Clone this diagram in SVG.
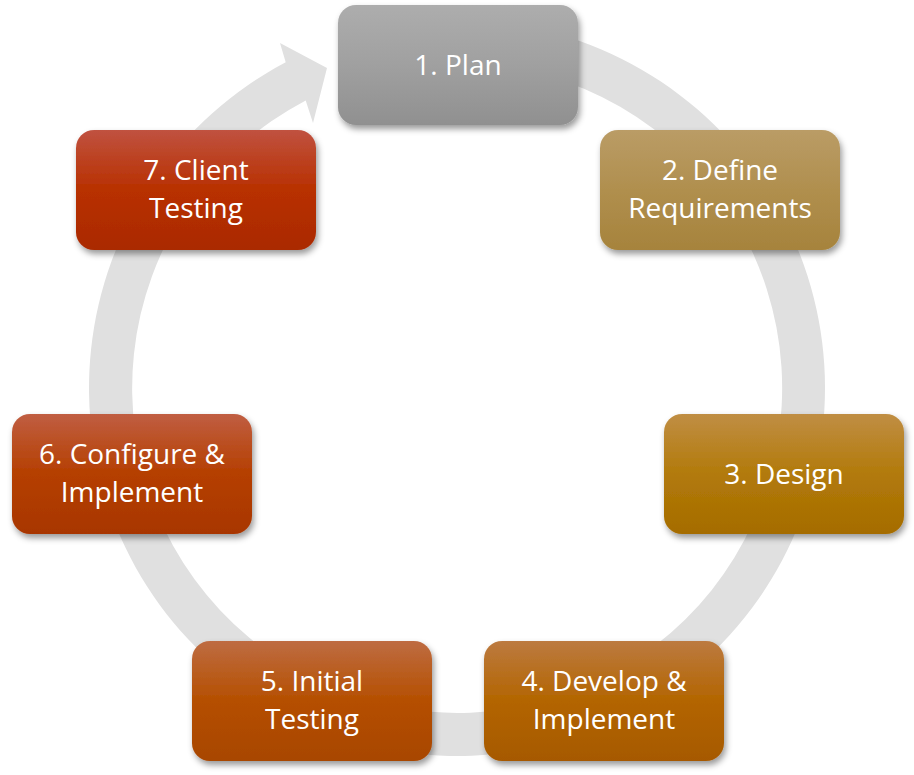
<svg xmlns="http://www.w3.org/2000/svg" width="914" height="775" viewBox="0 0 914 775">
<defs>
<filter id="sh" x="-10%" y="-10%" width="125%" height="135%">
<feDropShadow dx="2" dy="4" stdDeviation="3" flood-color="#000" flood-opacity="0.4"/>
</filter>
<linearGradient id="g1" x1="0" y1="0" x2="0" y2="1"><stop offset="0" stop-color="#adadad"/><stop offset="0.5" stop-color="#a0a0a0"/><stop offset="1" stop-color="#909090"/></linearGradient>
<linearGradient id="g2" x1="0" y1="0" x2="0" y2="1"><stop offset="0" stop-color="#ba9c66"/><stop offset="0.5" stop-color="#b08f4e"/><stop offset="1" stop-color="#a6833c"/></linearGradient>
<linearGradient id="g3" x1="0" y1="0" x2="0" y2="1"><stop offset="0" stop-color="#c08e44"/><stop offset="0.5" stop-color="#b27a0a"/><stop offset="1" stop-color="#a56c00"/></linearGradient>
<linearGradient id="g4" x1="0" y1="0" x2="0" y2="1"><stop offset="0" stop-color="#bc7a40"/><stop offset="0.5" stop-color="#b36500"/><stop offset="1" stop-color="#a65900"/></linearGradient>
<linearGradient id="g5" x1="0" y1="0" x2="0" y2="1"><stop offset="0" stop-color="#be6c42"/><stop offset="0.5" stop-color="#b54f00"/><stop offset="1" stop-color="#a84600"/></linearGradient>
<linearGradient id="g6" x1="0" y1="0" x2="0" y2="1"><stop offset="0" stop-color="#c05e42"/><stop offset="0.5" stop-color="#b53f00"/><stop offset="1" stop-color="#a83600"/></linearGradient>
<linearGradient id="g7" x1="0" y1="0" x2="0" y2="1"><stop offset="0" stop-color="#c05240"/><stop offset="0.5" stop-color="#b83000"/><stop offset="1" stop-color="#aa2a00"/></linearGradient>
</defs>
<style>
.box{filter:url(#sh)}
.t{font-family:"Open Sans","Liberation Sans",sans-serif;font-size:28px;fill:#ffffff;text-anchor:middle}
.ring{fill:#e0e0e0}
</style>
<g id="connectors">
<path class="ring" d="M 424.9 21.4 A 368 368 0 1 1 285.7 62.3 L 280 43 L 327 68 L 313 123 L 305.7 100.4 A 325 325 0 1 0 428.7 64.2 Z"/>
</g>
<g id="n1"><rect class="box" x="338" y="5" width="240" height="120" rx="18" fill="url(#g1)"/><text class="t" x="458" y="75">1. Plan</text></g>
<g id="n2"><rect class="box" x="600" y="130" width="240" height="120" rx="18" fill="url(#g2)"/><text class="t" x="720" y="180">2. Define</text><text class="t" x="720" y="218">Requirements</text></g>
<g id="n3"><rect class="box" x="664" y="414" width="240" height="120" rx="18" fill="url(#g3)"/><text class="t" x="784" y="484">3. Design</text></g>
<g id="n4"><rect class="box" x="484" y="641" width="240" height="120" rx="18" fill="url(#g4)"/><text class="t" x="604" y="691">4. Develop &amp;</text><text class="t" x="604" y="729">Implement</text></g>
<g id="n5"><rect class="box" x="192" y="641" width="240" height="120" rx="18" fill="url(#g5)"/><text class="t" x="312" y="691">5. Initial</text><text class="t" x="312" y="729">Testing</text></g>
<g id="n6"><rect class="box" x="12" y="414" width="240" height="120" rx="18" fill="url(#g6)"/><text class="t" x="132" y="464">6. Configure &amp;</text><text class="t" x="132" y="502">Implement</text></g>
<g id="n7"><rect class="box" x="76" y="130" width="240" height="120" rx="18" fill="url(#g7)"/><text class="t" x="196" y="180">7. Client</text><text class="t" x="196" y="218">Testing</text></g>
</svg>
